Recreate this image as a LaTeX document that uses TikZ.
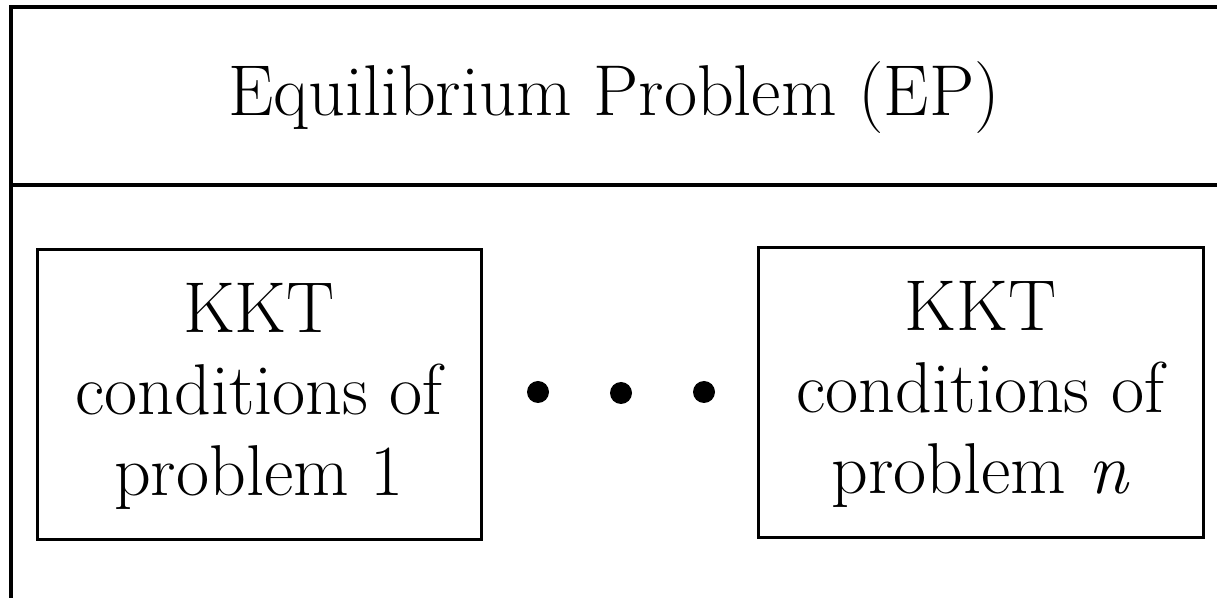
\documentclass[tikz,border=0pt]{standalone}
\begin{document}
\begin{tikzpicture}[x=0.5pt,y=-0.5pt,
  frame/.style={line width=2pt},
  kktbox/.style={draw,line width=1.5pt,rectangle,inner sep=0pt},
  txt/.style={anchor=base,inner sep=0pt,font=\fontsize{36}{43}\selectfont},
  dot/.style={circle,fill=black,inner sep=0pt,minimum size=11pt}]
\useasboundingbox (0,0) rectangle (1217,598);
\coordinate (bl) at (11,600);
\coordinate (tl) at (11,7);
\coordinate (tr) at (1220,7);
\coordinate (dl) at (11,185);
\coordinate (dr) at (1220,185);
\draw[frame] (bl) -- (tl) -- (tr);
\draw[frame] (dl) -- (dr);
\node[txt] (title) at (614,116) {Equilibrium Problem (EP)};
\node[kktbox,minimum width=222pt,minimum height=145pt] (box1) at (259,395) {};
\node[kktbox,minimum width=222.5pt,minimum height=145pt] (boxn) at (980.5,393) {};
\node[txt] (k1a) at (259,333) {KKT};
\node[txt] (k1b) at (259,415) {conditions of};
\node[txt] (k1c) at (259,496) {problem 1};
\node[txt] (kna) at (980.5,331) {KKT};
\node[txt] (knb) at (980.5,413) {conditions of};
\node[txt] (knc) at (980.5,494) {problem \textit{n}};
\node[dot] (d1) at (538,392) {};
\node[dot] (d2) at (621,393) {};
\node[dot] (d3) at (704,392) {};
\end{tikzpicture}
\end{document}
